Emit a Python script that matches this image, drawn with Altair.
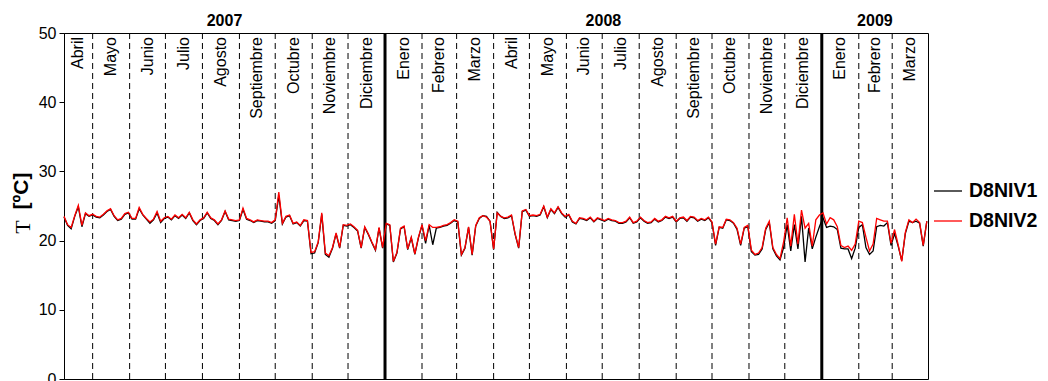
import altair as alt
import pandas as pd

# ---------------- data ----------------
START = "2007-04-07"          # first day shown
END = "2009-03-31"            # last day shown
STEP_DAYS = 3                 # spacing of the readings

d8niv1 = [
    23.4, 22.2, 21.7, 23.5, 24.9, 22.0, 23.9, 23.5, 23.7, 23.4,
    23.3, 23.7, 24.2, 24.5, 23.5, 22.9, 23.1, 23.8, 24.0, 23.1,
    23.1, 24.6, 23.7, 23.1, 22.5, 23.0, 24.0, 22.6, 23.2, 23.4,
    23.0, 23.6, 23.2, 23.7, 23.2, 24.0, 22.9, 22.3, 22.9, 23.2,
    24.0, 23.2, 22.9, 22.3, 22.9, 24.2, 23.0, 22.9, 22.8, 22.9,
    24.5, 23.1, 22.9, 22.6, 22.9, 22.8, 22.7, 22.7, 22.5, 22.9,
    26.5, 22.4, 23.4, 23.6, 22.4, 22.6, 22.1, 22.9, 22.8, 18.1,
    18.2, 19.7, 23.8, 18.0, 17.6, 18.9, 21.0, 18.9, 22.2, 22.1,
    22.3, 21.9, 21.4, 18.9, 21.9, 20.9, 19.7, 18.6, 21.8, 18.9,
    22.4, 22.2, 16.9, 18.2, 21.7, 22.0, 18.7, 20.4, 18.0, 20.4,
    22.2, 19.6, 22.2, 19.4, 21.8, 21.9, 22.1, 22.2, 22.5, 22.9,
    22.7, 17.9, 18.9, 21.9, 17.9, 22.1, 23.2, 23.6, 23.5, 22.8,
    18.7, 24.1, 23.5, 23.2, 23.3, 23.6, 20.9, 18.9, 24.2, 24.4,
    23.5, 23.6, 23.5, 23.7, 24.9, 23.3, 24.5, 23.9, 24.8, 23.9,
    23.4, 23.7, 22.7, 22.4, 23.2, 23.1, 22.9, 23.3, 22.7, 23.2,
    23.0, 22.8, 23.1, 22.9, 22.8, 22.5, 22.5, 22.7, 23.3, 22.5,
    22.7, 23.3, 22.8, 22.5, 22.6, 23.1, 22.7, 22.9, 23.4, 23.2,
    23.4, 22.7, 23.2, 23.3, 22.8, 23.4, 23.3, 22.8, 23.1, 22.9,
    23.3, 22.6, 19.3, 21.9, 21.8, 23.0, 22.9, 22.5, 21.6, 19.3,
    21.8, 22.0, 18.4, 17.9, 18.0, 18.8, 21.6, 22.6, 18.8, 17.8,
    17.2, 19.0, 22.3, 18.5, 22.3, 18.8, 23.5, 16.9, 21.8, 18.8,
    20.5, 22.0, 23.3, 21.9, 22.1, 22.0, 21.6, 18.9, 18.8, 18.8,
    17.4, 18.9, 21.9, 22.3, 19.0, 18.0, 18.5, 22.0, 22.2, 22.1,
    22.6, 19.3, 21.0, 19.2, 17.1, 21.0, 22.8, 22.6, 22.8, 22.5,
    19.2, 22.8,
]

d8niv2 = [
    23.5, 22.3, 21.9, 23.6, 25.1, 22.2, 24.0, 23.6, 23.8, 23.5,
    23.4, 23.8, 24.3, 24.6, 23.6, 23.0, 23.2, 23.9, 24.1, 23.2,
    23.2, 24.8, 23.8, 23.2, 22.7, 23.1, 24.2, 22.8, 23.3, 23.5,
    23.1, 23.7, 23.3, 23.8, 23.3, 24.1, 23.0, 22.4, 23.0, 23.3,
    24.1, 23.3, 23.0, 22.4, 23.0, 24.3, 23.1, 23.0, 22.9, 23.0,
    24.7, 23.2, 23.0, 22.7, 23.0, 22.9, 22.8, 22.8, 22.6, 23.0,
    27.0, 22.5, 23.5, 23.7, 22.5, 22.7, 22.2, 23.0, 22.9, 18.3,
    18.4, 19.8, 24.0, 18.2, 17.8, 19.0, 21.1, 19.0, 22.3, 22.2,
    22.4, 22.0, 21.5, 19.0, 22.0, 21.0, 19.8, 18.7, 21.9, 19.0,
    22.5, 22.3, 17.0, 18.3, 21.8, 22.1, 18.8, 20.5, 18.1, 20.5,
    22.3, 20.0, 22.3, 21.9, 21.9, 22.0, 22.2, 22.3, 22.6, 23.0,
    22.8, 18.0, 19.0, 22.0, 18.0, 22.2, 23.3, 23.6, 23.4, 22.8,
    18.8, 24.0, 23.5, 23.3, 23.4, 23.7, 21.0, 19.0, 24.3, 24.5,
    23.6, 23.7, 23.6, 23.8, 25.0, 23.4, 24.6, 24.0, 24.9, 24.0,
    23.5, 23.8, 22.8, 22.5, 23.3, 23.2, 23.0, 23.4, 22.8, 23.3,
    23.1, 22.9, 23.2, 23.0, 22.9, 22.6, 22.6, 22.8, 23.4, 22.6,
    22.8, 23.4, 22.9, 22.6, 22.7, 23.2, 22.8, 23.0, 23.5, 23.3,
    23.5, 22.8, 23.3, 23.4, 22.9, 23.5, 23.4, 22.9, 23.2, 23.0,
    23.4, 22.7, 19.5, 22.0, 21.9, 23.1, 23.0, 22.6, 21.8, 19.5,
    21.9, 22.2, 18.6, 18.0, 18.2, 19.0, 21.8, 22.8, 19.0, 18.0,
    17.4, 19.8, 23.3, 19.2, 23.8, 19.5, 24.4, 21.8, 22.5, 19.2,
    23.0, 23.7, 24.0, 22.4, 23.3, 23.0, 22.0, 19.3, 19.0, 19.2,
    18.6, 19.5, 22.8, 22.6, 20.5, 18.5, 19.5, 23.2, 23.0, 22.8,
    22.8, 19.6, 21.6, 19.4, 17.0, 21.2, 23.0, 22.6, 23.1, 22.6,
    19.3, 22.8,
]

series_names = ["D8NIV1", "D8NIV2"]
series_colors = ["black", "#ff0000"]

FIRST_MONTH = "2007-04-01"
month_names = [
    "Abril", "Mayo", "Junio", "Julio", "Agosto", "Septiembre", "Octubre",
    "Noviembre", "Diciembre", "Enero", "Febrero", "Marzo", "Abril", "Mayo",
    "Junio", "Julio", "Agosto", "Septiembre", "Octubre", "Noviembre",
    "Diciembre", "Enero", "Febrero", "Marzo",
]
years = ["2007", "2008", "2009"]
y_ticks = [0, 10, 20, 30, 40, 50]
title_symbol = "T"
title_unit = "[ºC]"

# ---------------- tables ----------------
FMT = "%Y-%m-%dT%H:%M:%SZ"
start = pd.Timestamp(START)
end = pd.Timestamp(END)

dates = [start + pd.Timedelta(days=STEP_DAYS * i) for i in range(len(d8niv2))]
series_df = pd.DataFrame({
    "date": [d.strftime(FMT) for d in dates] * 2,
    "T": d8niv1 + d8niv2,
    "serie": [series_names[0]] * len(d8niv1) + [series_names[1]] * len(d8niv2),
})

month_starts = pd.date_range(FIRST_MONTH, periods=len(month_names) + 1, freq="MS")
label_rows, dashed_rows, solid_rows = [], [], []
for i, name in enumerate(month_names):
    a = max(month_starts[i], start)
    b = min(month_starts[i + 1], end)
    label_rows.append({"date": (a + (b - a) / 2).strftime(FMT), "label": name})
for ms in month_starts[1:-1]:
    row = {"date": ms.strftime(FMT)}
    (solid_rows if ms.month == 1 else dashed_rows).append(row)
labels_df = pd.DataFrame(label_rows)
dashed_df = pd.DataFrame(dashed_rows)
solid_df = pd.DataFrame(solid_rows)

year_rows = []
for y in years:
    a = max(pd.Timestamp(f"{y}-01-01"), start)
    b = min(pd.Timestamp(f"{int(y) + 1}-01-01"), end)
    year_rows.append({"date": (a + (b - a) / 2).strftime(FMT), "year": y})
years_df = pd.DataFrame(year_rows)

# ---------------- chart ----------------
FONT = "Liberation Sans"
x_scale = alt.Scale(type="utc", domain=[int(start.timestamp() * 1000), int(end.timestamp() * 1000)])
x_enc = alt.X("date:T", scale=x_scale, axis=None)

dashed = alt.Chart(dashed_df).mark_rule(
    color="black", strokeWidth=1, strokeDash=[6, 4]
).encode(x=x_enc)

solid = alt.Chart(solid_df).mark_rule(color="black", strokeWidth=3).encode(x=x_enc)

lines = alt.Chart(series_df).mark_line(strokeWidth=1.3).encode(
    x=x_enc,
    y=alt.Y(
        "T:Q",
        scale=alt.Scale(domain=[0, 50], nice=False, zero=False),
        axis=alt.Axis(values=y_ticks, title=None, grid=False, tickSize=5, labelPadding=3),
    ),
    color=alt.Color(
        "serie:N",
        scale=alt.Scale(domain=series_names, range=series_colors),
        legend=alt.Legend(
            title=None, orient="none", legendX=869, legendY=143,
            symbolType="stroke", symbolSize=784, symbolStrokeWidth=1.3,
            labelFontSize=19.5, labelFontWeight="bold", labelFont=FONT,
            labelColor="black", labelOffset=6, rowPadding=5, padding=0,
        ),
    ),
    order=alt.Order("date:T"),
)

month_text = alt.Chart(labels_df).mark_text(
    angle=270, align="right", baseline="middle", fontSize=16, font=FONT, color="black"
).encode(x=x_enc, y=alt.value(4), text="label:N")

year_text = alt.Chart(years_df).mark_text(
    align="center", baseline="alphabetic", fontSize=16, fontWeight="bold",
    font=FONT, color="black"
).encode(x=x_enc, y=alt.value(-7), text="year:N")

# y-axis title: plain serif "T" followed by bold "[ºC]", both rotated
title_t = alt.Chart(pd.DataFrame({"t": [title_symbol]})).mark_text(
    angle=270, align="center", baseline="middle", fontSize=22,
    font="Liberation Serif", color="black"
).encode(x=alt.value(-41), y=alt.value(194), text="t:N")

title_u = alt.Chart(pd.DataFrame({"t": [title_unit]})).mark_text(
    angle=270, align="center", baseline="middle", fontSize=21, fontWeight="bold",
    font=FONT, color="black"
).encode(x=alt.value(-42), y=alt.value(158), text="t:N")

chart = alt.layer(dashed, solid, lines, month_text, year_text, title_t, title_u).properties(
    width=864,
    height=346,
    padding={"left": 56, "top": 25, "right": 112, "bottom": 2},
    autosize=alt.AutoSizeParams(type="none"),
).configure_view(
    stroke="black", strokeWidth=1
).configure_axis(
    labelFont=FONT, labelFontSize=16, labelColor="black",
    domainColor="black", tickColor="black", domainWidth=1,
)

chart.save("out.html", embed_options={"renderer": "svg", "actions": False})
